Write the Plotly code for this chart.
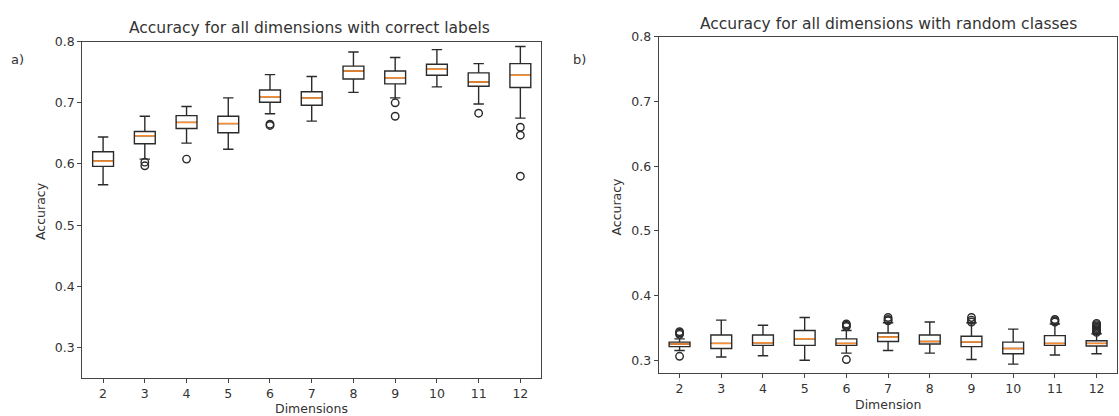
import plotly.graph_objects as go

dims = [2, 3, 4, 5, 6, 7, 8, 9, 10, 11, 12]
tick_labels = [str(d) for d in dims]

# Panel a) accuracy with correct labels
left_lo = [0.566, 0.608, 0.634, 0.624, 0.682, 0.670, 0.717, 0.708, 0.726, 0.698, 0.675]
left_q1 = [0.596, 0.633, 0.658, 0.651, 0.701, 0.696, 0.739, 0.731, 0.745, 0.727, 0.725]
left_med = [0.605, 0.646, 0.668, 0.666, 0.710, 0.708, 0.752, 0.741, 0.755, 0.734, 0.745]
left_q3 = [0.620, 0.653, 0.679, 0.678, 0.721, 0.718, 0.760, 0.752, 0.763, 0.749, 0.764]
left_hi = [0.644, 0.678, 0.694, 0.708, 0.746, 0.743, 0.783, 0.774, 0.787, 0.764, 0.792]
left_out_x = [3, 3, 4, 6, 6, 9, 9, 11, 12, 12, 12]
left_out_y = [0.603, 0.597, 0.608, 0.665, 0.663, 0.700, 0.678, 0.683, 0.660, 0.647, 0.580]

# Panel b) accuracy with random classes
right_lo = [0.315, 0.305, 0.307, 0.300, 0.311, 0.315, 0.311, 0.301, 0.294, 0.308, 0.310]
right_q1 = [0.321, 0.318, 0.323, 0.323, 0.323, 0.329, 0.325, 0.321, 0.310, 0.323, 0.322]
right_med = [0.325, 0.326, 0.327, 0.333, 0.326, 0.336, 0.329, 0.328, 0.318, 0.326, 0.326]
right_q3 = [0.328, 0.339, 0.339, 0.346, 0.333, 0.342, 0.339, 0.337, 0.328, 0.338, 0.330]
right_hi = [0.333, 0.362, 0.354, 0.366, 0.346, 0.358, 0.359, 0.358, 0.348, 0.356, 0.341]
right_out_x = [2, 2, 2, 2, 6, 6, 6, 6, 7, 7, 7, 9, 9, 9, 11, 11, 11,
               12, 12, 12, 12, 12, 12, 12, 12]
right_out_y = [0.340, 0.342, 0.344, 0.306, 0.352, 0.354, 0.356, 0.301,
               0.361, 0.363, 0.366, 0.359, 0.362, 0.366, 0.359, 0.361, 0.363,
               0.343, 0.345, 0.347, 0.349, 0.351, 0.353, 0.355, 0.357]

W, H = 1119, 416
FONT = "DejaVu Sans"
TXT = "#333333"
AX = "#444444"
BOXC = "#2b2b2b"
ORANGE = "#ff8c2a"

fig = go.Figure()


def add_panel(xa, ya, lo, q1, med, q3, hi, ox, oy):
    fig.add_trace(go.Box(
        x=dims, lowerfence=lo, q1=q1, median=med, q3=q3, upperfence=hi,
        xaxis=xa, yaxis=ya, width=0.5, whiskerwidth=0.5,
        line=dict(color=BOXC, width=1.4), fillcolor="rgba(255,255,255,0)",
        boxpoints=False, showlegend=False, hoverinfo="skip"))
    fig.add_trace(go.Box(
        x=dims, lowerfence=med, q1=med, median=med, q3=med, upperfence=med,
        xaxis=xa, yaxis=ya, width=0.46, whiskerwidth=0,
        line=dict(color=ORANGE, width=1.5), fillcolor="rgba(255,255,255,0)",
        boxpoints=False, showlegend=False, hoverinfo="skip"))
    fig.add_trace(go.Scatter(
        x=ox, y=oy, xaxis=xa, yaxis=ya, mode="markers",
        marker=dict(symbol="circle-open", size=7.5, color=BOXC, line=dict(width=1.4)),
        showlegend=False, hoverinfo="skip"))


add_panel("x", "y", left_lo, left_q1, left_med, left_q3, left_hi, left_out_x, left_out_y)
add_panel("x2", "y2", right_lo, right_q1, right_med, right_q3, right_hi, right_out_x, right_out_y)

axis_common = dict(
    showgrid=False, zeroline=False, showline=True, mirror=True,
    linecolor=AX, linewidth=1.2, ticks="outside", ticklen=4, tickwidth=1,
    tickcolor=AX, tickfont=dict(family=FONT, size=12.5, color=TXT))

fig.update_layout(
    width=W, height=H, margin=dict(l=0, r=0, t=0, b=0),
    paper_bgcolor="white", plot_bgcolor="white", boxmode="overlay",
    xaxis=dict(domain=[82.3 / W, 541.7 / W], range=[1.5, 12.5],
               tickvals=dims, ticktext=tick_labels, anchor="y", **axis_common),
    yaxis=dict(domain=[1 - 377.3 / H, 1 - 34.3 / H], range=[0.25, 0.8],
               tickvals=[0.3, 0.4, 0.5, 0.6, 0.7, 0.8], tickformat=".1f",
               anchor="x", **axis_common),
    xaxis2=dict(domain=[659.3 / W, 0.9995], range=[1.5, 12.5],
                tickvals=dims, ticktext=tick_labels, anchor="y2", **axis_common),
    yaxis2=dict(domain=[1 - 372.3 / H, 1 - 29.3 / H], range=[0.28, 0.8],
                tickvals=[0.3, 0.4, 0.5, 0.6, 0.7, 0.8], tickformat=".1f",
                anchor="x2", **axis_common),
)


def ann(text, x, y, size, angle=0, xanchor="center"):
    fig.add_annotation(text=text, x=x / W, y=1 - y / H, xref="paper", yref="paper",
                       showarrow=False, xanchor=xanchor, yanchor="middle",
                       textangle=angle, font=dict(family=FONT, size=size, color=TXT))


ann("Accuracy for all dimensions with correct labels", 310, 20, 15.5)
ann("Accuracy for all dimensions with random classes", 889, 16, 15.5)
ann("Dimensions", 312, 408, 12.5)
ann("Dimension", 889, 404, 12.5)
ann("Accuracy", 40, 207, 12.5, angle=-90)
ann("Accuracy", 617, 202, 12.5, angle=-90)
ann("a)", 9, 52, 13, xanchor="left")
ann("b)", 572, 52, 13, xanchor="left")

fig.write_html("out.html")
